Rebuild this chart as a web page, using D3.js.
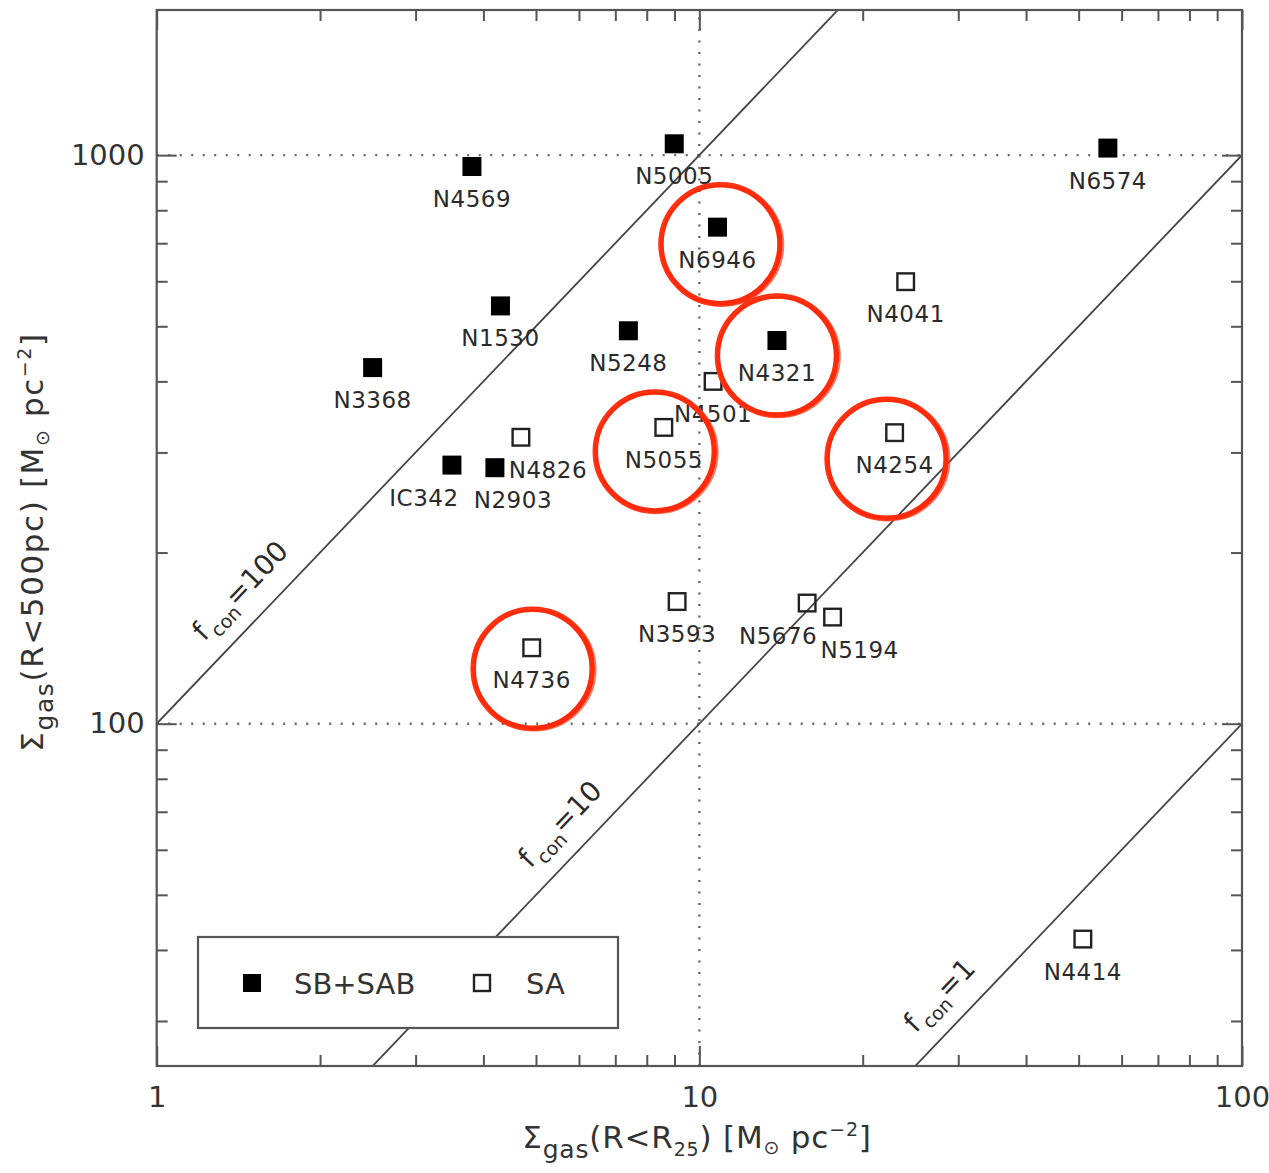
<!DOCTYPE html>
<html>
<head>
<meta charset="utf-8">
<script src="https://cdn.jsdelivr.net/npm/d3@7"></script>
<style>
  html, body { margin: 0; padding: 0; background: #fff; }
  svg { display: block; font-family: "DejaVu Sans", "Liberation Sans", sans-serif; }
</style>
</head>
<body>
<svg id="chart" width="1269" height="1173"></svg>
<script>
// Central (R<500pc) vs disk-averaged (R<R25) gas surface densities, in Msun pc^-2.
const barredNames  = ["N4569", "N5005", "N6574", "N6946", "N1530", "N5248", "N4321", "N3368", "IC342", "N2903"];
const barredDisk   = [3.81, 8.99, 56.6, 10.8, 4.30, 7.40, 13.9, 2.50, 3.50, 4.20];
const barredCenter = [955, 1047, 1029, 747, 543, 491, 472, 423, 285, 282];

const unbarredNames  = ["N4041", "N4501", "N5055", "N4826", "N4254", "N3593", "N5676", "N5194", "N4736", "N4414"];
const unbarredDisk   = [24.0, 10.6, 8.60, 4.69, 22.9, 9.10, 15.8, 17.6, 4.91, 50.9];
const unbarredCenter = [599, 400, 332, 319, 325, 164, 163, 154, 136, 41.8];

// Galaxies singled out with a red ring.
const circledNames = ["N6946", "N4321", "N5055", "N4254", "N4736"];

// Lines of constant concentration factor f_con = center / disk.
const fconValues    = [100, 10, 1];
const fconLabelDisk = [1.57, 6.1, 30.5];

const xTickValues = [1, 10, 100];
const xTickLabels = ["1", "10", "100"];
const yTickValues = [100, 1000];
const yTickLabels = ["100", "1000"];

const legendLabels = ["SB+SAB", "SA"];

// ---------------------------------------------------------------------------
const svg = d3.select("#chart");
const W = 1269, H = 1173;
svg.append("rect").attr("width", W).attr("height", H).attr("fill", "#fff");

const plot = { left: 156.7, right: 1242, top: 10, bottom: 1066 };
const x = d3.scaleLog().domain([1, 100]).range([plot.left, plot.right]);
const y = d3.scaleLog().domain([25, 1800]).range([plot.bottom, plot.top]);

const axisColor = "#555";
const inkColor = "#2a2a2a";

svg.append("clipPath").attr("id", "plotclip")
  .append("rect")
  .attr("x", plot.left).attr("y", plot.top)
  .attr("width", plot.right - plot.left).attr("height", plot.bottom - plot.top);

// minor tick positions for each decade
function minorTicks(lo, hi) {
  const out = [];
  for (let d = Math.pow(10, Math.floor(Math.log10(lo))); d < hi; d *= 10) {
    for (let k = 2; k <= 9; k++) {
      const v = k * d;
      if (v > lo && v < hi) out.push(v);
    }
  }
  return out;
}
const xMinor = minorTicks(1, 100);
const yMinor = minorTicks(25, 1800);

// dotted reference lines
const grid = svg.append("g").attr("stroke", "#666").attr("stroke-width", 2.4)
  .attr("stroke-dasharray", "2,9.5").attr("fill", "none");
grid.append("line").attr("x1", x(10)).attr("x2", x(10)).attr("y1", plot.bottom).attr("y2", plot.top);
[100, 1000].forEach(v => {
  grid.append("line").attr("x1", plot.left).attr("x2", plot.right).attr("y1", y(v)).attr("y2", y(v));
});

// constant f_con diagonals
const diag = svg.append("g").attr("clip-path", "url(#plotclip)");
const lineGen = d3.line().x(d => x(d[0])).y(d => y(d[1]));
fconValues.forEach(f => {
  diag.append("path")
    .attr("d", lineGen([[0.1, 0.1 * f], [1000, 1000 * f]]))
    .attr("stroke", "#444").attr("stroke-width", 1.8).attr("fill", "none");
});

// f_con labels, written along each line
const slopeAngle = Math.atan2(y(10) - y(100), x(10) - x(1)); // pixel slope of y = f x
fconValues.forEach((f, i) => {
  const xd = fconLabelDisk[i];
  const px = x(xd), py = y(xd * f);
  const off = 22;
  const cx = px - Math.sin(slopeAngle) * off;
  const cy = py - Math.cos(slopeAngle) * off;
  const t = svg.append("text")
    .attr("transform", `translate(${cx},${cy}) rotate(${-slopeAngle * 180 / Math.PI})`)
    .attr("text-anchor", "middle").attr("fill", inkColor).attr("font-size", 28);
  t.append("tspan").text("f");
  t.append("tspan").attr("font-size", 19).attr("dy", 8).attr("dx", 3).text("con");
  t.append("tspan").attr("dy", -8).text("=" + f);
});

// axes: ticks point into the plot on all four sides
function styleAxis(g) {
  g.select(".domain").remove();
  g.selectAll(".tick line").attr("stroke", axisColor).attr("stroke-width", 2);
  g.selectAll(".tick text").attr("fill", "#333").attr("font-size", 29)
    .attr("font-family", "DejaVu Sans, sans-serif");
}
const majorLen = 20, minorLen = 11;

svg.append("g").attr("transform", `translate(0,${plot.bottom})`)
  .call(d3.axisBottom(x).tickValues(xMinor).tickSize(-minorLen).tickFormat("")).call(styleAxis);
svg.append("g").attr("transform", `translate(0,${plot.bottom})`)
  .call(d3.axisBottom(x).tickValues(xTickValues).tickSize(-majorLen).tickPadding(20)
    .tickFormat((d, i) => xTickLabels[i])).call(styleAxis);
svg.append("g").attr("transform", `translate(0,${plot.top})`)
  .call(d3.axisTop(x).tickValues(xMinor).tickSize(-minorLen).tickFormat("")).call(styleAxis);
svg.append("g").attr("transform", `translate(0,${plot.top})`)
  .call(d3.axisTop(x).tickValues(xTickValues).tickSize(-majorLen).tickFormat("")).call(styleAxis);

svg.append("g").attr("transform", `translate(${plot.left},0)`)
  .call(d3.axisLeft(y).tickValues(yMinor).tickSize(-minorLen).tickFormat("")).call(styleAxis);
svg.append("g").attr("transform", `translate(${plot.left},0)`)
  .call(d3.axisLeft(y).tickValues(yTickValues).tickSize(-majorLen).tickPadding(12)
    .tickFormat((d, i) => yTickLabels[i])).call(styleAxis);
svg.append("g").attr("transform", `translate(${plot.right},0)`)
  .call(d3.axisRight(y).tickValues(yMinor).tickSize(-minorLen).tickFormat("")).call(styleAxis);
svg.append("g").attr("transform", `translate(${plot.right},0)`)
  .call(d3.axisRight(y).tickValues(yTickValues).tickSize(-majorLen).tickFormat("")).call(styleAxis);

// frame
svg.append("rect")
  .attr("x", plot.left).attr("y", plot.top)
  .attr("width", plot.right - plot.left).attr("height", plot.bottom - plot.top)
  .attr("fill", "none").attr("stroke", axisColor).attr("stroke-width", 2.2);

// axis titles
function unitTitle(sel, inner, sub) {
  sel.append("tspan").text("Σ");
  sel.append("tspan").attr("font-size", 25).attr("dy", 10).text("gas");
  sel.append("tspan").attr("dy", -10).text(inner);
  if (sub) {
    sel.append("tspan").attr("font-size", 19).attr("dy", 8).text(sub);
    sel.append("tspan").attr("dy", -8).text(")");
  }
  sel.append("tspan").text(" [M");
  sel.append("tspan").attr("font-size", 19).attr("dy", 6).text("⊙");
  sel.append("tspan").attr("dy", -6).text(" pc");
  sel.append("tspan").attr("font-size", 19).attr("dy", -12).text("−2");
  sel.append("tspan").attr("dy", 12).text("]");
}
const xt = svg.append("text").attr("x", 697).attr("y", 1148)
  .attr("text-anchor", "middle").attr("fill", "#333").attr("font-size", 31)
  .attr("letter-spacing", 0.8);
unitTitle(xt, "(R<R", "25");

const yt = svg.append("text").attr("transform", "translate(43,542) rotate(-90)")
  .attr("text-anchor", "middle").attr("fill", "#333").attr("font-size", 31)
  .attr("letter-spacing", 1.6);
unitTitle(yt, "(R<500pc)", null);

// points
const barred = barredNames.map((n, i) => ({ name: n, disk: barredDisk[i], center: barredCenter[i], barred: true }));
const unbarred = unbarredNames.map((n, i) => ({ name: n, disk: unbarredDisk[i], center: unbarredCenter[i], barred: false }));
const galaxies = barred.concat(unbarred);

const S = 19;
const pts = svg.append("g");
pts.selectAll("rect.sb").data(barred).join("rect")
  .attr("x", d => x(d.disk) - S / 2).attr("y", d => y(d.center) - S / 2)
  .attr("width", S).attr("height", S).attr("fill", "#000");
pts.selectAll("rect.sa").data(unbarred).join("rect")
  .attr("x", d => x(d.disk) - (S - 2.4) / 2).attr("y", d => y(d.center) - (S - 2.4) / 2)
  .attr("width", S - 2.4).attr("height", S - 2.4)
  .attr("fill", "none").attr("stroke", "#222").attr("stroke-width", 2.4);

// name labels sit under each marker; a few are shifted sideways to avoid overlaps
const labelShift = { N4826: 27, IC342: -28, N2903: 18, N5676: -29, N5194: 27 };
svg.append("g").selectAll("text").data(galaxies).join("text")
  .attr("x", d => x(d.disk) + (labelShift[d.name] || 0))
  .attr("y", d => y(d.center) + 40.5)
  .attr("text-anchor", "middle").attr("font-size", 23).attr("fill", inkColor)
  .attr("letter-spacing", 0.5)
  .text(d => d.name);

// red rings
const ringShift = { N6946: [3, 17], N4321: [0, 15], N5055: [-9, 24], N4254: [-8, 26], N4736: [1, 21] };
const ringed = galaxies.filter(d => circledNames.includes(d.name));
const rings = svg.append("g").attr("fill", "none");
ringed.forEach(d => {
  const s = ringShift[d.name] || [0, 18];
  const cx = x(d.disk) + s[0], cy = y(d.center) + s[1];
  rings.append("circle").attr("cx", cx).attr("cy", cy).attr("r", 59.5)
    .attr("stroke", "#ff2a0a").attr("stroke-width", 5.5);
  rings.append("ellipse").attr("cx", cx + 1).attr("cy", cy + 0.8).attr("rx", 62).attr("ry", 61.2)
    .attr("stroke", "#ff3a1a").attr("stroke-width", 1.6).attr("opacity", 0.7);
});

// legend
const lg = svg.append("g");
lg.append("rect").attr("x", 198).attr("y", 937).attr("width", 420).attr("height", 91)
  .attr("fill", "#fff").attr("stroke", axisColor).attr("stroke-width", 2.2);
lg.append("rect").attr("x", 252 - 9).attr("y", 983 - 9).attr("width", 18).attr("height", 18).attr("fill", "#000");
lg.append("text").attr("x", 294).attr("y", 993.5).attr("font-size", 29).attr("fill", "#333").text(legendLabels[0]);
lg.append("rect").attr("x", 482 - 8).attr("y", 983 - 8).attr("width", 16).attr("height", 16)
  .attr("fill", "none").attr("stroke", "#222").attr("stroke-width", 2.4);
lg.append("text").attr("x", 526).attr("y", 993.5).attr("font-size", 29).attr("fill", "#333").text(legendLabels[1]);
</script>
</body>
</html>
